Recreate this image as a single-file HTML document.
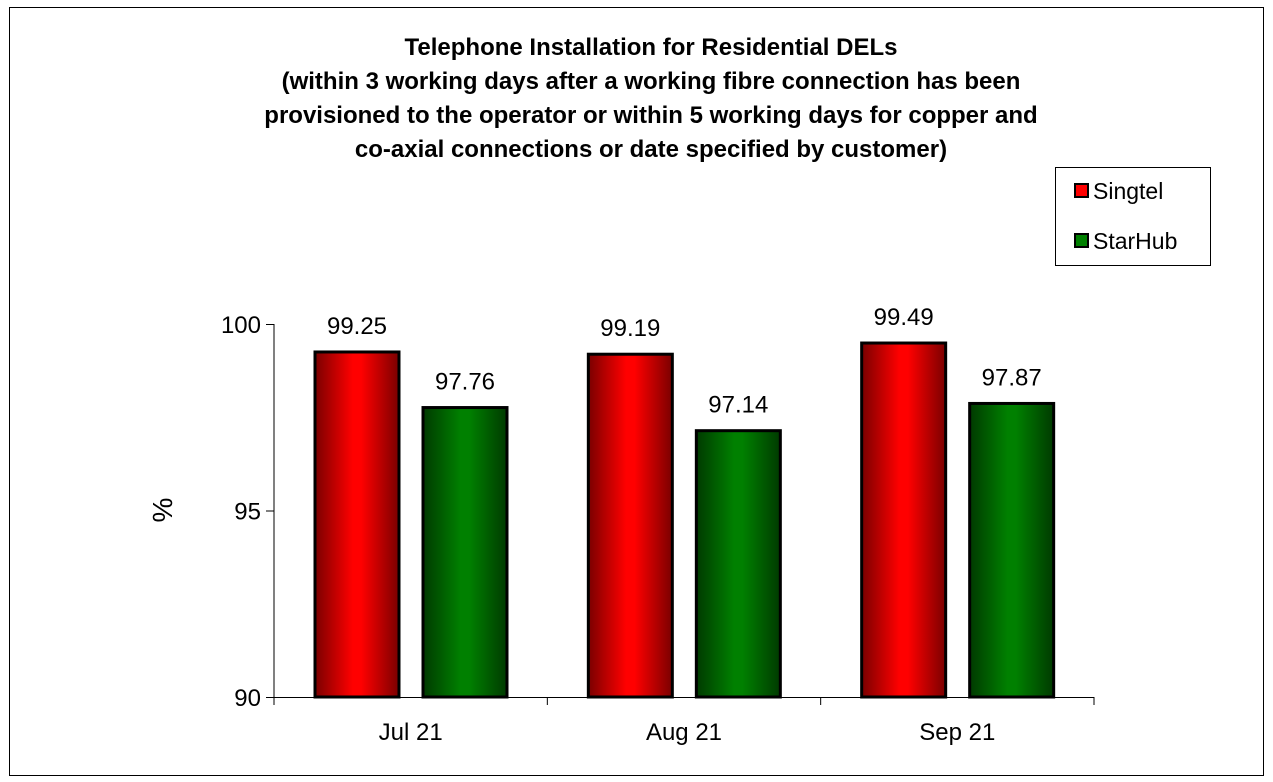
<!DOCTYPE html>
<html><head><meta charset="utf-8"><style>
body{margin:0;background:#fff;}
svg{display:block;font-family:"Liberation Sans",Arial,sans-serif;}
</style></head><body>
<svg id="chart" width="1273" height="782" viewBox="0 0 1273 782">
<defs>
<linearGradient id="gr" x1="0" x2="1" y1="0" y2="0"><stop offset="0" stop-color="#7a0000"/><stop offset="0.45" stop-color="#ff0000"/><stop offset="0.55" stop-color="#ff0000"/><stop offset="1" stop-color="#7a0000"/></linearGradient>
<linearGradient id="gg" x1="0" x2="1" y1="0" y2="0"><stop offset="0" stop-color="#003a00"/><stop offset="0.45" stop-color="#008000"/><stop offset="0.55" stop-color="#008000"/><stop offset="1" stop-color="#003a00"/></linearGradient>
</defs>
<rect x="9.5" y="7.5" width="1254" height="768" fill="#fff" stroke="#000" stroke-width="1"/>
<g font-weight="bold" font-size="24" text-anchor="middle">
<text x="651" y="55">Telephone Installation for Residential DELs</text>
<text x="651" y="89">(within 3 working days after a working fibre connection has been</text>
<text x="651" y="123">provisioned to the operator or within 5 working days for copper and</text>
<text x="651" y="157">co-axial connections or date specified by customer)</text>
</g>
<g>
<rect x="1055.5" y="167.5" width="155" height="98" fill="#fff" stroke="#000"/>
<rect x="1075" y="184" width="13" height="13" fill="#ff0000" stroke="#000" stroke-width="2"/>
<text x="1093" y="199" font-size="23">Singtel</text>
<rect x="1075" y="234" width="13" height="13" fill="#008000" stroke="#000" stroke-width="2"/>
<text x="1093" y="249" font-size="23">StarHub</text>
</g>
<text x="0" y="0" font-size="28" text-anchor="middle" transform="translate(172,510) rotate(-90)">%</text>
<g id="plot"></g>
</svg>
<script>
const categories=["Jul 21","Aug 21","Sep 21"];
const singtel=[99.25,99.19,99.49];
const starhub=[97.76,97.14,97.87];
const yTicks=[90,95,100];
const NS="http://www.w3.org/2000/svg";
const g=document.getElementById('plot');
const x0=274,x1=1094,yMin=90,yMax=100,yTop=324,yBot=697;
const y=v=>yBot-(v-yMin)/(yMax-yMin)*(yBot-yTop);
const cw=(x1-x0)/categories.length;
function mk(t,a,txt){const e=document.createElementNS(NS,t);for(const k in a)e.setAttribute(k,a[k]);if(txt!==undefined)e.textContent=txt;g.appendChild(e);return e;}
let ax=mk('line',{x1:x0,y1:yTop,x2:x0,y2:yBot,stroke:'#000'});


let bx=mk('line',{x1:x0,y1:yBot+0.5,x2:x1,y2:yBot+0.5,stroke:'#000'});


yTicks.forEach(t=>{
 let l=mk('line',{x1:x0-8,y1:y(t)+0.5,x2:x0,y2:y(t)+0.5,stroke:'#000'});
 
 
 let tx=mk('text',{x:x0-13,y:y(t)+9,'font-size':24,'text-anchor':'end'},String(t));
 
 
});
for(let i=0;i<=categories.length;i++){
 let l=mk('line',{x1:x0+i*cw,y1:yBot,x2:x0+i*cw,y2:yBot+8,stroke:'#000'});
 
 
}
categories.forEach((c,i)=>{
 const cx=x0+i*cw;
 let tx=mk('text',{x:cx+cw/2,y:740,'font-size':24,'text-anchor':'middle'},c);
 
 
 [[singtel,'url(#gr)',41,'singtel'],[starhub,'url(#gg)',149,'starhub']].forEach(([s,f,off,n])=>{
  const v=s[i],top=y(v);
  let r=mk('rect',{x:cx+off,y:top,width:84,height:yBot-top,fill:f,stroke:'#000','stroke-width':3});
  
  
  let lb=mk('text',{x:cx+off+42,y:top-18,'font-size':24,'text-anchor':'middle'},v.toFixed(2));
  
  
 });
});
</script>
</body></html>
